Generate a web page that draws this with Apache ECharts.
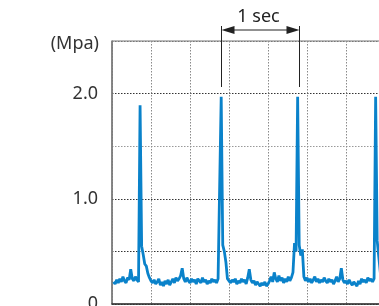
<!DOCTYPE html>
<html>
<head>
<meta charset="UTF-8">
<title>Pressure</title>
<script src="https://cdn.jsdelivr.net/npm/echarts@6/dist/echarts.min.js"></script>
<style>
  html, body { margin: 0; padding: 0; background: #fff; }
  #main { width: 379px; height: 306px; }
</style>
</head>
<body>
<div id="main"></div>
<script type="text/javascript">
// sampling: first sample at t0, one sample every dt seconds
var t0 = 0.02;
var dt = 0.02;
// pressure (Mpa)
var pressure = [
  0.21, 0.19, 0.23, 0.20, 0.24, 0.21, 0.26, 0.22, 0.20, 0.25, 0.23, 0.33, 0.24, 0.22, 0.26, 0.23, 0.21,
  1.89, 0.55, 0.47, 0.38, 0.36, 0.29, 0.25,
  0.22, 0.20, 0.23, 0.19, 0.21, 0.24, 0.18, 0.21, 0.17, 0.22, 0.19, 0.23, 0.18, 0.21, 0.24, 0.20,
  0.25, 0.22, 0.24, 0.27, 0.34, 0.24, 0.21, 0.25, 0.22, 0.20, 0.24, 0.21, 0.23, 0.19, 0.24, 0.22,
  0.20, 0.25, 0.21, 0.23, 0.19, 0.22, 0.20, 0.24, 0.21, 0.23, 0.20, 0.24,
  0.25, 1.97, 0.56, 0.50, 0.40, 0.24,
  0.22, 0.20, 0.23, 0.21, 0.24, 0.19, 0.22, 0.20, 0.24, 0.21, 0.23, 0.19, 0.25, 0.33, 0.23, 0.20,
  0.22, 0.18, 0.21, 0.19, 0.17, 0.20, 0.18, 0.21, 0.17, 0.19, 0.22, 0.26, 0.21, 0.30, 0.24, 0.21,
  0.27, 0.22, 0.25, 0.20, 0.24, 0.21, 0.26, 0.22, 0.25,
  0.30, 0.58, 0.50, 1.97, 0.56, 0.46, 0.52, 0.26,
  0.22, 0.25, 0.21, 0.24, 0.20, 0.23, 0.26, 0.21, 0.24, 0.20, 0.23, 0.21, 0.25, 0.22, 0.20, 0.24,
  0.21, 0.23, 0.19, 0.22, 0.26, 0.21, 0.24, 0.34, 0.23, 0.20, 0.22, 0.19, 0.23, 0.20, 0.18, 0.21,
  0.19, 0.17, 0.22, 0.19, 0.24, 0.21, 0.23, 0.20, 0.25, 0.22, 0.24, 0.21, 0.24,
  1.97, 0.60, 0.45, 0.30, 0.24, 0.22
];
// "1 sec" marker between two peaks
var markFrom = 1.40;
var markTo = 2.40;
var markText = '1 sec';
var yName = '(Mpa)';

var myChart = echarts.init(document.getElementById('main'));

var data = [];
for (var i = 0; i < pressure.length; i++) {
  data.push([+(t0 + i * dt).toFixed(2), pressure[i]]);
}

var font = '"Noto Sans", "Open Sans", sans-serif';

var option = {
  animation: false,
  grid: {
    left: 112, top: 41, width: 273, height: 263,
    outerBoundsMode: 'none',
    containLabel: false,
    show: true, borderColor: '#777', borderWidth: 1
  },
  xAxis: {
    type: 'value', min: 0, max: 3.5, interval: 0.5,
    axisLine: { show: true, lineStyle: { color: '#333', width: 1.5 } },
    axisTick: { show: false },
    axisLabel: { show: false },
    splitLine: { show: true, lineStyle: { color: '#8a8a8a', type: [1.5, 1.5], width: 1 } }
  },
  yAxis: {
    type: 'value', min: 0, max: 2.5, interval: 0.5,
    name: yName,
    nameLocation: 'end',
    nameGap: -3,
    nameTextStyle: { fontFamily: font, fontSize: 18, color: '#333', align: 'right', verticalAlign: 'middle', padding: [0, 13, 0, 0] },
    axisLine: { show: true, lineStyle: { color: '#777', width: 1.5 } },
    axisTick: { show: false },
    axisLabel: {
      fontFamily: font, fontSize: 18, color: '#333', margin: 14,
      formatter: function (v) {
        if (v === 0) return '0';
        if (v === 1 || v === 2) return v.toFixed(1);
        return '';
      }
    },
    splitLine: { show: true, lineStyle: { color: ['#333', '#333', '#333', '#999', '#333', '#777'], type: [1.5, 1.5], width: 1 } }
  },
  series: [{
    type: 'line',
    data: data,
    showSymbol: false,
    lineStyle: { color: '#0a82ca', width: 2.8 },
    itemStyle: { color: '#0a82ca' }
  }]
};

myChart.setOption(option);

// annotation placed from the data positions of the two peaks
var pa = myChart.convertToPixel({ gridIndex: 0 }, [markFrom, 0]);
var pb = myChart.convertToPixel({ gridIndex: 0 }, [markTo, 0]);
var xa = Math.round(pa[0]) + 0.5, xb = Math.round(pb[0]) + 0.5;
var ay = 30;
myChart.setOption({
  graphic: [
    { type: 'line', shape: { x1: xa, y1: 26, x2: xa, y2: 87 }, style: { stroke: '#222', lineWidth: 1 } },
    { type: 'line', shape: { x1: xb, y1: 26, x2: xb, y2: 87 }, style: { stroke: '#222', lineWidth: 1 } },
    { type: 'line', shape: { x1: xa + 8, y1: ay, x2: xb - 8, y2: ay }, style: { stroke: '#222', lineWidth: 1 } },
    { type: 'polygon', shape: { points: [[xa, ay], [xa + 13, ay - 4], [xa + 13, ay + 4]] }, style: { fill: '#222' } },
    { type: 'polygon', shape: { points: [[xb, ay], [xb - 13, ay - 4], [xb - 13, ay + 4]] }, style: { fill: '#222' } },
    { type: 'text', x: (xa + xb) / 2 - 2, y: 17, style: { text: markText, font: '18px ' + font, fill: '#222', textAlign: 'center', textVerticalAlign: 'middle' } }
  ]
});
</script>
</body>
</html>
